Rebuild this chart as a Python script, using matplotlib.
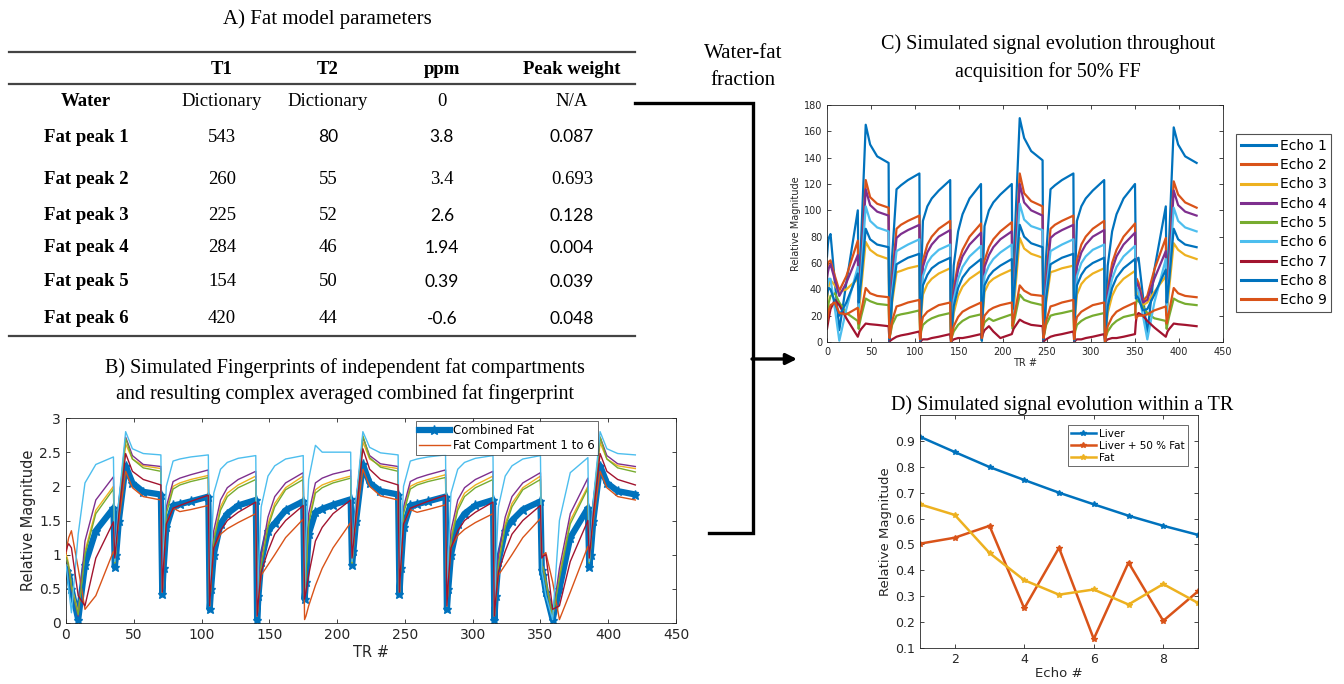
import matplotlib.pyplot as plt
from matplotlib.lines import Line2D
from matplotlib.patches import FancyArrowPatch

# --- figure size in pixels ---
W, H = 1344, 684

# --- A) table ---
col_names = ['T1', 'T2', 'ppm', 'Peak weight']
row_names = ['Water', 'Fat peak 1', 'Fat peak 2', 'Fat peak 3',
             'Fat peak 4', 'Fat peak 5', 'Fat peak 6']
t1_vals = ['Dictionary', '543', '260', '225', '284', '154', '420']
t2_vals = ['Dictionary', '80', '55', '52', '46', '50', '44']
ppm_vals = ['0', '3.8', '3.4', '2.6', '1.94', '0.39', '-0.6']
weight_vals = ['N/A', '0.087', '0.693', '0.128', '0.004', '0.039', '0.048']
# cells typed in a sans font in the source figure (row, col)
sans_cells = {(1, 1), (1, 2), (1, 3), (3, 2), (3, 3), (4, 2), (4, 3),
              (5, 2), (5, 3), (6, 2), (6, 3)}

# --- common TR sampling ---
tr = [0, 1, 2, 4, 9, 14, 22, 35,
      36, 37, 39, 44, 49, 57, 70,
      71, 72, 74, 79, 84, 92, 105,
      106, 107, 109, 114, 119, 127, 140,
      141, 142, 144, 149, 154, 162, 175,
      176, 177, 179, 184, 189, 197, 210,
      211, 212, 214, 219, 224, 232, 245,
      246, 247, 249, 254, 259, 267, 280,
      281, 282, 284, 289, 294, 302, 315,
      316, 317, 319, 324, 329, 337, 350,
      351, 352, 354, 359, 364, 372, 385,
      386, 387, 389, 394, 399, 407, 420]

# --- B) fat fingerprints ---
combined_fat = [0.78, 0.76, 0.7, 0.5, 0.05, 0.85, 1.35, 1.68,
                0.82, 1.0, 1.5, 2.3, 2.05, 1.92, 1.88,
                0.42, 0.8, 1.4, 1.72, 1.74, 1.78, 1.85,
                0.2, 0.5, 1.0, 1.45, 1.6, 1.72, 1.8,
                0.05, 0.4, 0.9, 1.35, 1.46, 1.65, 1.78,
                0.35, 0.6, 1.3, 1.62, 1.67, 1.73, 1.81,
                0.85, 1.05, 1.5, 2.32, 2.05, 1.93, 1.88,
                0.42, 0.8, 1.4, 1.72, 1.74, 1.78, 1.85,
                0.2, 0.5, 1.0, 1.45, 1.6, 1.72, 1.8,
                0.05, 0.4, 0.9, 1.35, 1.5, 1.66, 1.78,
                0.77, 0.7, 0.45, 0.05, 0.5, 1.25, 1.68,
                0.82, 1.0, 1.5, 2.3, 2.05, 1.93, 1.88]
comp1 = [1.0, 1.15, 1.25, 1.35, 0.8, 0.2, 0.4, 1.05,
         1.0, 1.2, 1.5, 2.22, 1.98, 1.85, 1.8,
         0.45, 0.85, 1.45, 1.68, 1.63, 1.66, 1.72,
         0.25, 0.6, 1.1, 1.3, 1.38, 1.47, 1.6,
         0.1, 0.35, 0.7, 0.85, 1.0, 1.25, 1.52,
         0.05, 0.1, 0.25, 0.55, 0.8, 1.1, 1.47,
         1.0, 1.2, 1.5, 2.25, 2.0, 1.86, 1.8,
         0.45, 0.85, 1.45, 1.66, 1.62, 1.66, 1.73,
         0.25, 0.6, 1.1, 1.28, 1.37, 1.47, 1.6,
         0.1, 0.35, 0.7, 0.85, 1.0, 1.25, 1.53,
         0.95, 1.0, 1.03, 0.6, 0.05, 0.45, 1.12,
         1.0, 1.2, 1.5, 2.22, 1.98, 1.85, 1.8]
comp2 = [1.0, 0.95, 0.85, 0.55, 0.15, 1.05, 1.65, 2.0,
         0.88, 1.1, 1.65, 2.62, 2.4, 2.3, 2.26,
         0.45, 0.9, 1.65, 2.0, 2.05, 2.1, 2.16,
         0.25, 0.65, 1.25, 1.7, 1.9, 2.02, 2.15,
         0.1, 0.4, 0.9, 1.45, 1.75, 1.98, 2.15,
         0.4, 0.75, 1.5, 1.95, 2.02, 2.08, 2.15,
         0.88, 1.1, 1.65, 2.65, 2.4, 2.3, 2.26,
         0.45, 0.9, 1.65, 2.0, 2.05, 2.1, 2.17,
         0.25, 0.65, 1.25, 1.7, 1.9, 2.02, 2.15,
         0.1, 0.4, 0.9, 1.45, 1.75, 1.98, 2.15,
         0.85, 0.8, 0.6, 0.1, 0.7, 1.5, 2.0,
         0.88, 1.1, 1.65, 2.64, 2.4, 2.3, 2.26]
comp3 = [0.95, 0.9, 0.8, 0.5, 0.1, 1.2, 1.8, 2.14,
         0.9, 1.15, 1.75, 2.72, 2.45, 2.32, 2.29,
         0.45, 0.95, 1.7, 2.07, 2.12, 2.17, 2.24,
         0.25, 0.7, 1.35, 1.8, 1.98, 2.1, 2.22,
         0.1, 0.45, 1.0, 1.55, 1.85, 2.05, 2.2,
         0.4, 0.8, 1.6, 2.05, 2.12, 2.18, 2.24,
         0.9, 1.15, 1.75, 2.72, 2.45, 2.33, 2.29,
         0.45, 0.95, 1.7, 2.07, 2.12, 2.17, 2.24,
         0.25, 0.7, 1.35, 1.8, 1.98, 2.1, 2.22,
         0.1, 0.45, 1.0, 1.55, 1.85, 2.05, 2.2,
         0.85, 0.8, 0.6, 0.1, 0.8, 1.6, 2.12,
         0.9, 1.15, 1.75, 2.72, 2.45, 2.33, 2.29]
comp4 = [0.95, 0.9, 0.82, 0.52, 0.12, 1.0, 1.6, 1.96,
         0.88, 1.12, 1.7, 2.7, 2.4, 2.27, 2.22,
         0.45, 0.9, 1.6, 1.96, 2.02, 2.07, 2.13,
         0.25, 0.6, 1.2, 1.65, 1.85, 1.98, 2.1,
         0.1, 0.38, 0.85, 1.4, 1.7, 1.95, 2.1,
         0.4, 0.7, 1.45, 1.9, 1.98, 2.05, 2.12,
         0.88, 1.12, 1.7, 2.74, 2.42, 2.28, 2.22,
         0.45, 0.9, 1.6, 1.96, 2.02, 2.07, 2.13,
         0.25, 0.6, 1.2, 1.65, 1.85, 1.98, 2.1,
         0.1, 0.38, 0.85, 1.4, 1.7, 1.95, 2.1,
         0.85, 0.8, 0.6, 0.1, 0.65, 1.45, 1.97,
         0.88, 1.12, 1.7, 2.72, 2.4, 2.27, 2.21]
comp5 = [0.85, 0.7, 0.5, 0.15, 1.3, 2.05, 2.32, 2.43,
         0.9, 1.2, 1.8, 2.8, 2.55, 2.48, 2.46,
         0.45, 1.1, 2.0, 2.37, 2.4, 2.43, 2.46,
         0.25, 1.0, 1.9, 2.25, 2.35, 2.41, 2.45,
         0.1, 0.8, 1.7, 2.15, 2.3, 2.4, 2.45,
         0.4, 1.2, 2.1, 2.6, 2.5, 2.5, 2.5,
         0.9, 1.2, 1.8, 2.8, 2.57, 2.49, 2.46,
         0.45, 1.1, 2.0, 2.37, 2.4, 2.43, 2.46,
         0.25, 1.0, 1.9, 2.25, 2.35, 2.41, 2.45,
         0.1, 0.8, 1.7, 2.15, 2.3, 2.4, 2.45,
         0.75, 0.65, 0.4, 0.05, 1.5, 2.2, 2.42,
         0.9, 1.2, 1.8, 2.8, 2.55, 2.48, 2.46]
comp6 = [1.05, 1.12, 1.16, 1.1, 0.4, 0.25, 0.95, 1.48,
         0.95, 1.15, 1.6, 2.48, 2.22, 2.1, 2.02,
         0.45, 0.85, 1.45, 1.68, 1.72, 1.78, 1.87,
         0.25, 0.6, 1.1, 1.35, 1.5, 1.62, 1.77,
         0.1, 0.35, 0.75, 1.05, 1.3, 1.5, 1.72,
         0.35, 0.45, 0.7, 1.2, 1.4, 1.6, 1.8,
         0.95, 1.15, 1.6, 2.55, 2.25, 2.1, 2.02,
         0.45, 0.85, 1.45, 1.68, 1.72, 1.78, 1.87,
         0.25, 0.6, 1.1, 1.35, 1.5, 1.62, 1.77,
         0.1, 0.35, 0.75, 1.05, 1.3, 1.5, 1.72,
         0.95, 0.98, 1.0, 0.2, 0.25, 0.9, 1.5,
         0.95, 1.15, 1.6, 2.48, 2.22, 2.1, 2.02]

# --- C) signal evolution, 50% FF ---
echo1 = [65, 74, 79, 82, 45, 9, 45, 100,
         30, 47, 81, 165, 150, 141, 136,
         0, 20, 65, 116, 119, 123, 128,
         0, 50, 92, 103, 109, 115, 123,
         0, 25, 58, 84, 97, 109, 120,
         2, 50, 88, 100, 106, 112, 120,
         30, 50, 90, 170, 155, 145, 138,
         0, 20, 65, 116, 119, 123, 128,
         0, 50, 92, 103, 109, 115, 123,
         0, 25, 58, 84, 97, 109, 120,
         60, 63, 64, 35, 6, 55, 103,
         30, 47, 81, 163, 150, 141, 136]
echo2 = [55, 59, 61, 62, 50, 39, 50, 77,
         25, 37, 62, 123, 110, 105, 102,
         2, 15, 48, 86, 89, 92, 96,
         2, 35, 62, 74, 80, 86, 92,
         0, 15, 40, 60, 70, 80, 90,
         2, 35, 62, 72, 78, 84, 91,
         20, 35, 62, 128, 113, 107, 103,
         2, 15, 48, 86, 89, 92, 96,
         2, 35, 62, 74, 80, 86, 92,
         0, 15, 40, 60, 70, 80, 90,
         46, 48, 45, 31, 35, 55, 79,
         25, 37, 62, 122, 112, 106, 102]
echo3 = [30, 38, 43, 47, 43, 38, 40, 48,
         20, 28, 42, 76, 70, 66, 63,
         2, 10, 30, 53, 54, 56, 58,
         1, 20, 36, 44, 48, 52, 56,
         0, 8, 22, 35, 42, 48, 54,
         1, 20, 38, 45, 48, 51, 55,
         12, 22, 40, 79, 71, 67, 64,
         2, 10, 30, 53, 54, 56, 58,
         1, 20, 36, 44, 48, 52, 56,
         0, 8, 22, 35, 42, 48, 54,
         35, 38, 36, 28, 30, 38, 50,
         20, 28, 42, 75, 70, 66, 63]
echo4 = [48, 53, 56, 59, 47, 35, 45, 66,
         28, 38, 60, 116, 104, 99, 96,
         2, 14, 44, 79, 82, 85, 89,
         2, 32, 57, 68, 74, 80, 85,
         0, 14, 37, 55, 65, 74, 83,
         2, 32, 57, 66, 72, 78, 84,
         18, 32, 57, 120, 106, 100, 96,
         2, 14, 44, 79, 82, 85, 89,
         2, 32, 57, 68, 74, 80, 85,
         0, 14, 37, 55, 65, 74, 83,
         44, 45, 42, 30, 32, 48, 69,
         25, 36, 58, 115, 104, 99, 96]
echo5 = [20, 26, 30, 35, 37, 30, 22, 16,
         10, 14, 20, 33, 31, 29, 28,
         3, 6, 13, 20, 21, 22, 24,
         2, 8, 13, 16, 18, 20, 22,
         1, 4, 8, 13, 16, 19, 21,
         5, 10, 15, 18, 16, 18, 21,
         10, 14, 20, 36, 32, 30, 28,
         3, 6, 13, 20, 21, 22, 24,
         2, 8, 13, 16, 18, 20, 22,
         1, 4, 8, 13, 16, 19, 21,
         28, 32, 31, 27, 22, 18, 16,
         10, 14, 20, 33, 31, 29, 28]
echo6 = [40, 45, 48, 48, 25, 1, 25, 57,
         26, 36, 55, 103, 92, 87, 84,
         2, 12, 38, 69, 71, 74, 78,
         1, 28, 50, 60, 65, 70, 74,
         0, 12, 32, 48, 57, 65, 73,
         1, 28, 50, 58, 63, 68, 74,
         16, 28, 50, 105, 93, 88, 85,
         2, 12, 38, 69, 71, 74, 78,
         1, 28, 50, 60, 65, 70, 74,
         0, 12, 32, 48, 57, 65, 73,
         40, 41, 38, 20, 2, 30, 63,
         22, 33, 52, 102, 92, 87, 84]
echo7 = [10, 14, 18, 25, 32, 28, 18, 4,
         6, 8, 10, 14, 13.5, 13, 12,
         1, 1, 2, 4, 5, 6, 8,
         0, 1, 2, 2, 3, 4, 6,
         0, 1, 2, 3, 3, 4, 6,
         3, 6, 9, 12, 8, 3, 6,
         8, 10, 12, 17, 15, 13, 12,
         1, 1, 2, 4, 5, 6, 8,
         0, 1, 2, 2, 3, 4, 6,
         0, 1, 2, 3, 3, 4, 6,
         15, 20, 22, 20, 16, 11, 4,
         6, 8, 10, 14, 13.5, 13, 12]
echo8 = [35, 39, 41, 40, 30, 20, 30, 52,
         30, 36, 48, 86, 78, 74, 72,
         2, 10, 33, 59, 61, 64, 67,
         1, 24, 43, 51, 56, 60, 64,
         0, 10, 27, 41, 49, 56, 63,
         1, 24, 43, 50, 54, 58, 63,
         25, 33, 48, 89, 80, 75, 72,
         2, 10, 33, 59, 61, 64, 67,
         1, 24, 43, 51, 56, 60, 64,
         0, 10, 27, 41, 49, 56, 63,
         33, 35, 33, 24, 25, 36, 55,
         30, 36, 48, 86, 78, 74, 72]
echo9 = [15, 20, 24, 28, 30, 22, 21, 26,
         14, 18, 24, 41, 37, 35, 34,
         3, 7, 16, 27, 28, 30, 32,
         2, 12, 19, 23, 25, 28, 30,
         0, 5, 12, 19, 23, 26, 30,
         3, 12, 20, 24, 26, 28, 30,
         12, 17, 24, 43, 39, 36, 35,
         3, 7, 16, 27, 28, 30, 32,
         2, 12, 19, 23, 25, 28, 30,
         0, 5, 12, 19, 23, 26, 30,
         18, 19, 20, 20, 21, 24, 27,
         14, 18, 24, 41, 37, 35, 34]

# --- D) signal within a TR ---
echo_num = [1, 2, 3, 4, 5, 6, 7, 8, 9]
liver = [0.916, 0.857, 0.799, 0.749, 0.700, 0.655, 0.611, 0.572, 0.537]
liver_fat50 = [0.503, 0.526, 0.572, 0.253, 0.487, 0.135, 0.430, 0.205, 0.319]
fat = [0.655, 0.614, 0.467, 0.362, 0.306, 0.326, 0.268, 0.347, 0.274]

# MATLAB default line colours
BLUE, ORANGE, YELLOW = '#0072BD', '#D95319', '#EDB120'
PURPLE, GREEN, CYAN, DRED = '#7E2F8E', '#77AC30', '#4DBEEE', '#A2142F'

SERIF = ['Liberation Serif', 'DejaVu Serif']
SANS = ['Lato', 'DejaVu Sans']

fig = plt.figure(figsize=(W / 100, H / 100), dpi=100)


def fx(x):
    return x / W


def fy(y):
    return 1 - y / H


def px_axes(x0, y0, x1, y1):
    return fig.add_axes([fx(x0), fy(y1), (x1 - x0) / W, (y1 - y0) / H])


def matlab_style(ax, fs):
    for s in ax.spines.values():
        s.set_color('#262626')
        s.set_linewidth(0.6)
    ax.tick_params(direction='in', top=True, right=True, labelsize=fs,
                   colors='#262626', length=3, width=0.6)


def hline(x0, x1, y, lw=1.6, color='#444444'):
    fig.add_artist(Line2D([fx(x0), fx(x1)], [fy(y), fy(y)], lw=lw, color=color))


# ---------- A) table ----------
fig.text(fx(327), fy(19), 'A) Fat model parameters', family=SERIF,
         fontsize=15, ha='center', va='center')
hline(9, 635, 52)
hline(9, 635, 84)
hline(9, 635, 336)
col_x = [222, 328, 442, 572]
row_y = [101, 137, 179, 216, 248, 282, 319]
for cx, name in zip(col_x, col_names):
    fig.text(fx(cx), fy(69), name, family=SERIF, fontsize=13.5,
             fontweight='bold', ha='center', va='center')
for r, (ry, name) in enumerate(zip(row_y, row_names)):
    fig.text(fx(86), fy(ry), name, family=SERIF, fontsize=13.5,
             fontweight='bold', ha='center', va='center')
    cells = [t1_vals[r], t2_vals[r], ppm_vals[r], weight_vals[r]]
    for c, (cx, val) in enumerate(zip(col_x, cells)):
        if (r, c) in sans_cells:
            fig.text(fx(cx), fy(ry), val, family=SANS, fontsize=12.5,
                     ha='center', va='center')
        else:
            fig.text(fx(cx), fy(ry), val, family=SERIF, fontsize=13.5,
                     ha='center', va='center')

# ---------- connector ----------
fig.text(fx(743), fy(67), 'Water-fat\nfraction', family=SERIF, fontsize=15,
         ha='center', va='center', linespacing=1.55)
# one bracket path: table -> down -> panel B
fig.add_artist(Line2D([fx(635), fx(753), fx(753), fx(709)],
                      [fy(103), fy(103), fy(533), fy(533)],
                      lw=2.4, color='black', solid_joinstyle='miter'))
fig.add_artist(FancyArrowPatch((fx(752), fy(359)), (fx(797), fy(359)),
                               transform=fig.transFigure, arrowstyle='-|>',
                               mutation_scale=16, lw=2.4, color='black',
                               shrinkA=0, shrinkB=0))

# ---------- B) fingerprints ----------
fig.text(fx(345), fy(381), 'B) Simulated Fingerprints of independent fat compartments\n'
         'and resulting complex averaged combined fat fingerprint',
         family=SERIF, fontsize=14.5, ha='center', va='center', linespacing=1.45)
axb = px_axes(66, 418, 676, 623)
axb.plot(tr, combined_fat, color=BLUE, lw=4.5, marker='*', ms=6.5,
         label='Combined Fat', zorder=2)
axb.plot(tr, comp1, color=ORANGE, lw=1, label='Fat Compartment 1 to 6', zorder=3)
for comp, col in zip([comp2, comp3, comp4, comp5, comp6],
                     [YELLOW, PURPLE, GREEN, CYAN, DRED]):
    axb.plot(tr, comp, color=col, lw=1, zorder=3)
axb.set_xlim(0, 450)
axb.set_ylim(0, 3)
axb.set_xticks(range(0, 451, 50))
axb.set_yticks([0, 0.5, 1, 1.5, 2, 2.5, 3])
axb.set_yticklabels(['0', '0.5', '1', '1.5', '2', '2.5', '3'])
matlab_style(axb, 10)
axb.set_xlabel('TR #', fontsize=10.5, color='#262626', labelpad=2)
axb.set_ylabel('Relative Magnitude', fontsize=10.5, color='#262626', labelpad=2)
lb = axb.legend(loc='upper left', bbox_to_anchor=(fx(416), fy(421)),
                bbox_transform=fig.transFigure, fontsize=8.5, frameon=True,
                fancybox=False, edgecolor='#262626', borderpad=0.25,
                labelspacing=0.15, handlelength=2.6, handletextpad=0.3,
                borderaxespad=0)
lb.get_frame().set_linewidth(0.6)

# ---------- C) signal evolution ----------
fig.text(fx(1048), fy(58), 'C) Simulated signal evolution throughout\n'
         'acquisition for 50% FF', family=SERIF, fontsize=14.5,
         ha='center', va='center', linespacing=1.55)
axc = px_axes(827, 105, 1223, 342)
echoes = [echo1, echo2, echo3, echo4, echo5, echo6, echo7, echo8, echo9]
echo_cols = [BLUE, ORANGE, YELLOW, PURPLE, GREEN, CYAN, DRED, BLUE, ORANGE]
for i, (vals, col) in enumerate(zip(echoes, echo_cols)):
    axc.plot(tr, vals, color=col, lw=1.6, label=f'Echo {i + 1}')
axc.set_xlim(0, 450)
axc.set_ylim(0, 180)
axc.set_xticks(range(0, 451, 50))
axc.set_yticks(range(0, 181, 20))
matlab_style(axc, 7)
axc.set_xlabel('TR #', fontsize=7, color='#262626', labelpad=1)
axc.set_ylabel('Relative Magnitude', fontsize=7, color='#262626', labelpad=2)
lc = axc.legend(loc='upper left', bbox_to_anchor=(fx(1236), fy(134)),
                bbox_transform=fig.transFigure, fontsize=10, frameon=True,
                fancybox=False, edgecolor='#262626', borderpad=0.35,
                labelspacing=0.38, handlelength=2.5, handletextpad=0.3,
                borderaxespad=0)
lc.get_frame().set_linewidth(0.8)
for h in lc.get_lines():
    h.set_linewidth(2.2)

# ---------- D) within a TR ----------
fig.text(fx(1062), fy(405), 'D) Simulated signal evolution within a TR',
         family=SERIF, fontsize=14.5, ha='center', va='center')
axd = px_axes(920, 415, 1198, 648)
axd.plot(echo_num, liver, color=BLUE, lw=1.8, marker='*', ms=4, label='Liver')
axd.plot(echo_num, liver_fat50, color=ORANGE, lw=1.8, marker='*', ms=4,
         label='Liver + 50 % Fat')
axd.plot(echo_num, fat, color=YELLOW, lw=1.8, marker='*', ms=4, label='Fat')
axd.set_xlim(1, 9)
axd.set_ylim(0.1, 1.0)
axd.set_xticks([2, 4, 6, 8])
axd.set_yticks([0.1, 0.2, 0.3, 0.4, 0.5, 0.6, 0.7, 0.8, 0.9])
matlab_style(axd, 9)
axd.set_xlabel('Echo #', fontsize=9.5, color='#262626', labelpad=1)
axd.set_ylabel('Relative Magnitude', fontsize=9.5, color='#262626', labelpad=2)
ld = axd.legend(loc='upper right', fontsize=7.5, frameon=True, fancybox=False,
                edgecolor='#262626', borderpad=0.3, labelspacing=0.2,
                handlelength=2.4, handletextpad=0.3, borderaxespad=1.0)
ld.get_frame().set_linewidth(0.6)

fig.savefig('out.png', dpi=100)
